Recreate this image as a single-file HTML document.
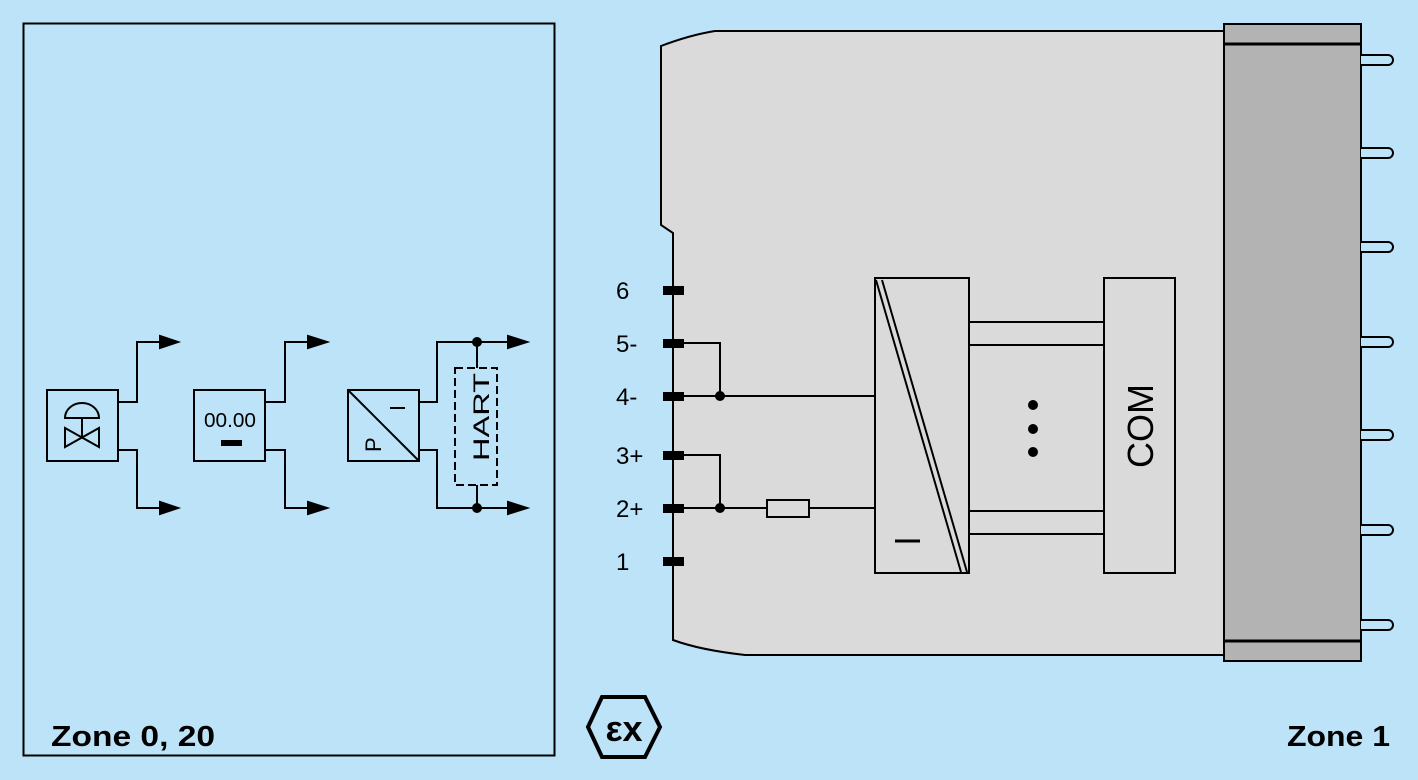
<!DOCTYPE html>
<html><head><meta charset="utf-8"><style>
html,body{margin:0;padding:0;background:#bde3f9;}
svg{display:block;}
text{font-family:"Liberation Sans",Arial,sans-serif;fill:#000;}
</style></head><body>
<svg width="1418" height="780" viewBox="0 0 1418 780" xmlns="http://www.w3.org/2000/svg">
<rect width="1418" height="780" fill="#bde3f9"/>
<rect x="23.5" y="23.5" width="531" height="732" fill="none" stroke="#000" stroke-width="2"/>
<g stroke="#000" stroke-width="2" fill="none">
<rect x="47" y="390" width="71" height="71"/>
<path d="M118,402 H137 V342 H160"/><path d="M118,450 H137 V508 H160"/>
<path d="M160,336 L178,342 L160,348z" fill="#000"/><path d="M160,502 L178,508 L160,514z" fill="#000"/>
<path d="M65,418 A17,15 0 0 1 99,418 Z"/><path d="M82,418 V437"/>
<path d="M65,428 L99,447 V428 L65,447 Z"/>
<rect x="194" y="390" width="71" height="71"/>
<path d="M265,402 H285 V342 H308"/><path d="M265,450 H285 V508 H308"/>
<path d="M308,336 L327,342 L308,348z" fill="#000"/><path d="M308,502 L327,508 L308,514z" fill="#000"/>
<rect x="348" y="390" width="71" height="71"/>
<path d="M349,391 L418,460"/>
<path d="M390,408 H405" />
<path d="M419,402 H437 V342 H508"/><path d="M419,450 H437 V508 H508"/>
<path d="M508,336 L527,342 L508,348z" fill="#000"/><path d="M508,502 L527,508 L508,514z" fill="#000"/>
<path d="M477,342 V368 M477,485 V508"/>
<rect x="455" y="368" width="42" height="117" stroke-dasharray="8,4"/>
</g>
<circle cx="477" cy="342" r="5"/><circle cx="477" cy="508" r="5"/>
<rect x="221" y="440" width="21" height="6"/>
<text x="230" y="427" font-size="20" text-anchor="middle" textLength="52" lengthAdjust="spacingAndGlyphs">00.00</text>
<text transform="translate(381,452) rotate(-90)" font-size="22">P</text>
<text transform="translate(489,461) rotate(-90)" font-size="22" textLength="88" lengthAdjust="spacingAndGlyphs">HART</text>
<text x="51" y="746" font-size="29" font-weight="bold" textLength="164" lengthAdjust="spacingAndGlyphs">Zone 0, 20</text>
<path d="M661,46 Q690,35 715,31 H1224 V655 H745 Q700,650 673,640 V233 L661,225 Z" fill="#dadada" stroke="#000" stroke-width="2"/>
<rect x="1224" y="24" width="137" height="637" fill="#b3b3b3" stroke="#000" stroke-width="2"/>
<path d="M1224,44 H1361 M1224,641 H1361" stroke="#000" stroke-width="3"/>
<g fill="#bde3f9" stroke="#000" stroke-width="2">
<path d="M1361,55 H1388 A5,5 0 0 1 1388,65 H1361"/>
<path d="M1361,148 H1388 A5,5 0 0 1 1388,158 H1361"/>
<path d="M1361,242 H1388 A5,5 0 0 1 1388,252 H1361"/>
<path d="M1361,337 H1388 A5,5 0 0 1 1388,347 H1361"/>
<path d="M1361,430 H1388 A5,5 0 0 1 1388,440 H1361"/>
<path d="M1361,525 H1388 A5,5 0 0 1 1388,535 H1361"/>
<path d="M1361,620 H1388 A5,5 0 0 1 1388,630 H1361"/>
</g>
<g fill="#000">
<rect x="663" y="286" width="21" height="9"/><rect x="663" y="339" width="21" height="9"/>
<rect x="663" y="392" width="21" height="9"/><rect x="663" y="451" width="21" height="9"/>
<rect x="663" y="504" width="21" height="9"/><rect x="663" y="557" width="21" height="9"/>
</g>
<g font-size="24">
<text x="616" y="299">6</text><text x="616" y="352">5-</text><text x="616" y="405">4-</text>
<text x="616" y="464">3+</text><text x="616" y="517">2+</text><text x="616" y="570">1</text>
</g>
<g stroke="#000" stroke-width="2" fill="none">
<path d="M684,343 H720 V396 M684,396 H875"/>
<path d="M684,455 H720 V508 M684,508 H767 M809,508 H875"/>
<rect x="767" y="500" width="42" height="17"/>
<rect x="875" y="278" width="94" height="295"/>
<path d="M876,280 L961,572 M882,280 L967,572"/>
<path d="M895,541 H920" stroke-width="3"/>
<path d="M969,322 H1104 M969,345 H1104 M969,511 H1104 M969,534 H1104"/>
<rect x="1104" y="278" width="71" height="295"/>
</g>
<circle cx="720" cy="396" r="5"/><circle cx="720" cy="508" r="5"/>
<circle cx="1033" cy="405" r="5"/><circle cx="1033" cy="429" r="5"/><circle cx="1033" cy="452" r="5"/>
<text transform="translate(1153,426) rotate(-90)" font-size="36" text-anchor="middle">COM</text>
<path d="M602,697 H645 L660,727 L645,757 H602 L588,727 Z" fill="none" stroke="#000" stroke-width="4"/>
<text x="624" y="741" font-size="36" font-weight="bold" text-anchor="middle">εx</text>
<text x="1390" y="746" font-size="29" font-weight="bold" text-anchor="end" textLength="103" lengthAdjust="spacingAndGlyphs">Zone 1</text>
</svg>
</body></html>
